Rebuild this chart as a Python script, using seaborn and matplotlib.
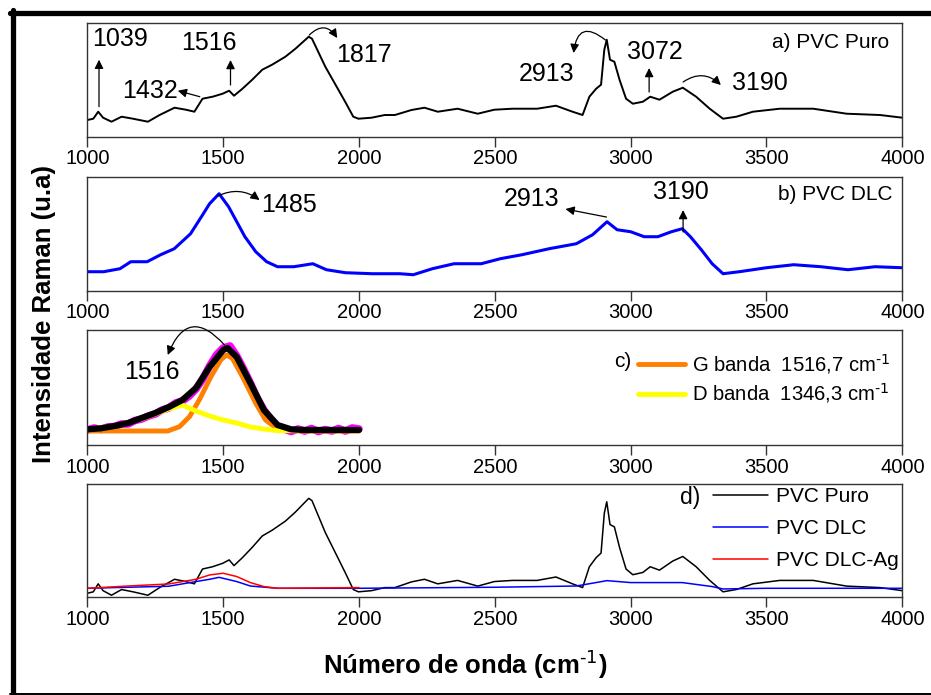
import matplotlib
matplotlib.use("Agg")
import matplotlib.pyplot as plt
from matplotlib.lines import Line2D
import seaborn as sns

# Panel a: PVC Puro (intensidade em unidades arbitrarias)
puro_x = [1000, 1022, 1040, 1058, 1089, 1126, 1168, 1223, 1266, 1321, 1363, 1394, 1424, 1461,
          1498, 1522, 1540, 1571, 1607, 1644, 1680, 1729, 1766, 1815, 1827, 1876, 1924, 1949,
          1979, 1998, 2046, 2095, 2132, 2193, 2241, 2290, 2363, 2437, 2498, 2565, 2656, 2725,
          2786, 2823, 2848, 2873, 2891, 2903, 2912, 2924, 2940, 2959, 2983, 3008, 3045, 3072,
          3106, 3155, 3192, 3241, 3291, 3340, 3389, 3450, 3549, 3672, 3795, 3918, 4000]
puro_y = [16.7, 18, 25, 19, 15, 20, 18, 15, 21.7, 29, 27, 25, 38, 40,
          43, 46, 41, 48, 57, 67, 72, 80, 88, 100, 98, 70, 47, 35,
          20, 18, 19, 21.7, 21.7, 26.7, 29, 25, 28, 23, 27, 28, 28, 31,
          25, 21.7, 40, 48, 52, 87, 97, 77, 75, 57, 38, 33, 35, 40,
          37, 45, 49, 40, 28, 18, 20, 25, 28, 28, 23, 21.7, 19]

# Panel b: PVC DLC
dlc_x = [1000, 1060, 1120, 1160, 1220, 1270, 1320, 1380, 1420, 1450, 1485, 1520, 1550, 1580,
         1620, 1660, 1700, 1760, 1830, 1880, 1950, 2050, 2150, 2200, 2270, 2350, 2450, 2520,
         2600, 2700, 2800, 2860, 2913, 2950, 3000, 3050, 3100, 3150, 3190, 3220, 3260, 3300,
         3340, 3400, 3500, 3600, 3700, 3800, 3900, 4000]
dlc_y = [19, 19, 22, 29, 29, 36, 42, 57, 74, 87, 97, 84, 69, 54,
         39, 29, 24, 24, 27, 21, 18, 17, 17, 16, 22, 27, 27, 32,
         36, 42, 47, 56, 69, 61, 59, 54, 54, 59, 62, 54, 41, 27,
         17, 19, 23, 26, 24, 21, 24, 23]

# Panel c: dados, ajuste e bandas G / D
raw_x = [1000, 1025, 1050, 1075, 1100, 1125, 1150, 1175, 1200, 1225, 1250, 1275, 1300, 1325,
         1350, 1375, 1400, 1425, 1450, 1475, 1500, 1525, 1550, 1575, 1600, 1625, 1650, 1675,
         1700, 1725, 1750, 1775, 1800, 1825, 1850, 1875, 1900, 1925, 1950, 1975, 2000]
raw_y = [15, 17, 15.5, 18, 18.5, 21, 21, 24.5, 26, 29, 31, 35, 37, 42,
         44, 49, 56, 66, 79, 90, 97, 99, 89, 76, 62, 47, 35, 26,
         19, 16, 13.5, 16, 14, 16.5, 13.5, 15.5, 14, 16.5, 14, 17, 16]
fit_x = [1000, 1050, 1100, 1150, 1200, 1250, 1300, 1350, 1400, 1450, 1500, 1516, 1550, 1600,
         1650, 1700, 1750, 1800, 1900, 2000]
fit_y = [15.7, 16.7, 19, 22, 27, 32, 38, 45, 57, 78, 95, 97, 88, 62,
         35, 20, 15.7, 15, 15, 15]
g_x = [1000, 1100, 1200, 1296, 1339, 1376, 1412, 1455, 1491, 1512, 1534, 1571, 1620, 1656,
       1705, 1800, 2000]
g_y = [14, 14, 14, 14, 18.3, 28.3, 45, 68.3, 85, 90, 86.7, 68.3, 41.7, 25,
       15, 14, 14]
d_x = [1000, 1100, 1200, 1300, 1350, 1400, 1450, 1500, 1550, 1600, 1650, 1700, 1750, 2000]
d_y = [15.7, 19, 26, 36, 40, 34, 29, 25, 22, 18, 16, 14.3, 14.3, 14.3]

# Panel d: comparacao (mesma escala do PVC Puro)
cmp_dlc_x = [1000, 1300, 1400, 1450, 1485, 1550, 1600, 1700, 2000, 2500, 2800, 2913, 3000,
             3190, 3300, 3340, 3500, 4000]
cmp_dlc_y = [21.1, 22.9, 27.0, 29.0, 30.7, 27.0, 23.1, 21.1, 21.1, 22.0, 23.1, 27.8, 26.1,
             26.1, 22.6, 20.5, 21.1, 21.1]
cmp_ag_x = [1000, 1150, 1300, 1400, 1450, 1500, 1550, 1600, 1650, 1700, 2000]
cmp_ag_y = [21.1, 23.1, 24.9, 29.0, 32.8, 34.3, 31.4, 26.1, 22.6, 21.1, 21.7]

ticks = [1000, 1500, 2000, 2500, 3000, 3500, 4000]

sns.set_style("ticks")
plt.rcParams["font.family"] = ["Liberation Sans", "DejaVu Sans"]
plt.rcParams["mathtext.default"] = "regular"
plt.rcParams["text.color"] = "black"
plt.rcParams["xtick.labelcolor"] = "black"

fig = plt.figure(figsize=(9.31, 6.95), dpi=100)
left, width = 0.0938, 0.8754
ax_a = fig.add_axes([left, 0.8033, width, 0.1640])
ax_b = fig.add_axes([left, 0.5817, width, 0.1640])
ax_c = fig.add_axes([left, 0.3597, width, 0.1655])
ax_d = fig.add_axes([left, 0.1406, width, 0.1630])

arrow = dict(arrowstyle="-|>", color="black", lw=0.9, mutation_scale=13, shrinkA=0, shrinkB=0)


def note(ax, text, x, y):
    ax.text(x, y, text, fontsize=18, ha="center", va="center", color="black")


def pointer(ax, tail, head, rad=0.0):
    props = dict(arrow, connectionstyle=f"arc3,rad={rad}")
    ax.annotate("", xy=head, xytext=tail, arrowprops=props)


# a) PVC Puro
sns.lineplot(x=puro_x, y=puro_y, ax=ax_a, color="black", linewidth=1.4)
ax_a.set_ylim(0, 114)
note(ax_a, "1039", 1120, 97.7)
pointer(ax_a, (1043, 30), (1043, 77))
note(ax_a, "1516", 1447, 94.2)
pointer(ax_a, (1527, 51.7), (1527, 76.7))
note(ax_a, "1432", 1230, 46)
pointer(ax_a, (1414, 40), (1333, 46))
note(ax_a, "1817", 2018, 81.7)
pointer(ax_a, (1817, 101.7), (1920, 98.7), rad=-0.6)
note(ax_a, "2913", 2692, 62.7)
pointer(ax_a, (2907, 96.7), (2790, 83.7), rad=0.9)
note(ax_a, "3072", 3088, 84.7)
pointer(ax_a, (3068, 44.7), (3068, 68.7))
note(ax_a, "3190", 3477, 53.7)
pointer(ax_a, (3193, 54.7), (3332, 51.7), rad=-0.4)
ax_a.text(0.984, 0.83, "a) PVC Puro", transform=ax_a.transAxes, fontsize=15,
          ha="right", va="center")

# b) PVC DLC
sns.lineplot(x=dlc_x, y=dlc_y, ax=ax_b, color="#0000ff", linewidth=2.2)
ax_b.set_ylim(0, 114)
note(ax_b, "1485", 1744, 85.7)
pointer(ax_b, (1480, 94.7), (1634, 90.7), rad=-0.3)
note(ax_b, "2913", 2636, 91.7)
pointer(ax_b, (2911, 73.7), (2760, 81.7))
note(ax_b, "3190", 3186, 98.7)
pointer(ax_b, (3193, 58.7), (3193, 80.7))
ax_b.text(0.988, 0.84, "b) PVC DLC", transform=ax_b.transAxes, fontsize=15,
          ha="right", va="center")

# c) ajuste das bandas
sns.lineplot(x=raw_x, y=raw_y, ax=ax_c, color="#ff00ff", linewidth=5.5)
sns.lineplot(x=g_x, y=g_y, ax=ax_c, color="#ff7f00", linewidth=3.5,
             label=r"G banda  1516,7 cm$^{\text{-1}}$")
sns.lineplot(x=d_x, y=d_y, ax=ax_c, color="#ffff00", linewidth=3.5,
             label=r"D banda  1346,3 cm$^{\text{-1}}$")
sns.lineplot(x=fit_x, y=fit_y, ax=ax_c, color="black", linewidth=4.5)
ax_c.set_ylim(0, 115)
note(ax_c, "1516", 1238, 73)
pointer(ax_c, (1505, 100), (1296, 90), rad=0.8)
ax_c.legend(loc="upper right", bbox_to_anchor=(0.985, 0.81), frameon=False, fontsize=14.6,
            handlelength=2.35, handletextpad=0.3, labelspacing=0.28, borderaxespad=0,
            borderpad=0)
ax_c.text(0.667, 0.722, "c)", transform=ax_c.transAxes, fontsize=15, ha="right", va="center")

# d) comparacao
sns.lineplot(x=puro_x, y=puro_y, ax=ax_d, color="black", linewidth=1.1, label="PVC Puro")
sns.lineplot(x=cmp_dlc_x, y=cmp_dlc_y, ax=ax_d, color="#0000ff", linewidth=1.1, label="PVC DLC")
sns.lineplot(x=cmp_ag_x, y=cmp_ag_y, ax=ax_d, color="#ff0000", linewidth=1.1,
             label="PVC DLC-Ag")
ax_d.set_ylim(13.2, 112.6)
ax_d.legend(loc="upper right", bbox_to_anchor=(0.995, 0.97), frameon=False, fontsize=15,
            handlelength=2.64, handletextpad=0.38, labelspacing=0.62, borderaxespad=0,
            borderpad=0)
ax_d.text(0.752, 0.885, "d)", transform=ax_d.transAxes, fontsize=16.5, ha="right",
          va="center")

for ax in [ax_a, ax_b, ax_c, ax_d]:
    ax.set_xlim(1000, 4000)
    ax.set_xticks(ticks)
    ax.set_yticks([])
    ax.set_xlabel("")
    ax.set_ylabel("")
    ax.tick_params(axis="x", direction="out", length=7, width=1, labelsize=14.5, pad=2,
                   color="#333333", labelcolor="black")
    for s in ax.spines.values():
        s.set_color("#333333")
        s.set_linewidth(1)
        s.set_visible(True)

fig.text(465 / 931, 1 - 665 / 695, r"Número de onda (cm$^{\text{-1}}$)", fontsize=18.5,
         fontweight="bold", ha="center", va="center")
fig.text(44 / 931, 1 - 314 / 695, "Intensidade Raman (u.a)", fontsize=18.5,
         fontweight="bold", rotation=90, ha="center", va="center")

# moldura externa
fig.add_artist(Line2D([12.5 / 931, 12.5 / 931], [1 - 694 / 695, 1 - 10 / 695],
                      transform=fig.transFigure, color="black", lw=3.8))
fig.add_artist(Line2D([10 / 931, 1.0], [1 - 12.5 / 695, 1 - 12.5 / 695],
                      transform=fig.transFigure, color="black", lw=3.8))
fig.add_artist(Line2D([10 / 931, 1.0], [1 - 693.5 / 695, 1 - 693.5 / 695],
                      transform=fig.transFigure, color="black", lw=1.4))

fig.savefig("out.png", dpi=100)
